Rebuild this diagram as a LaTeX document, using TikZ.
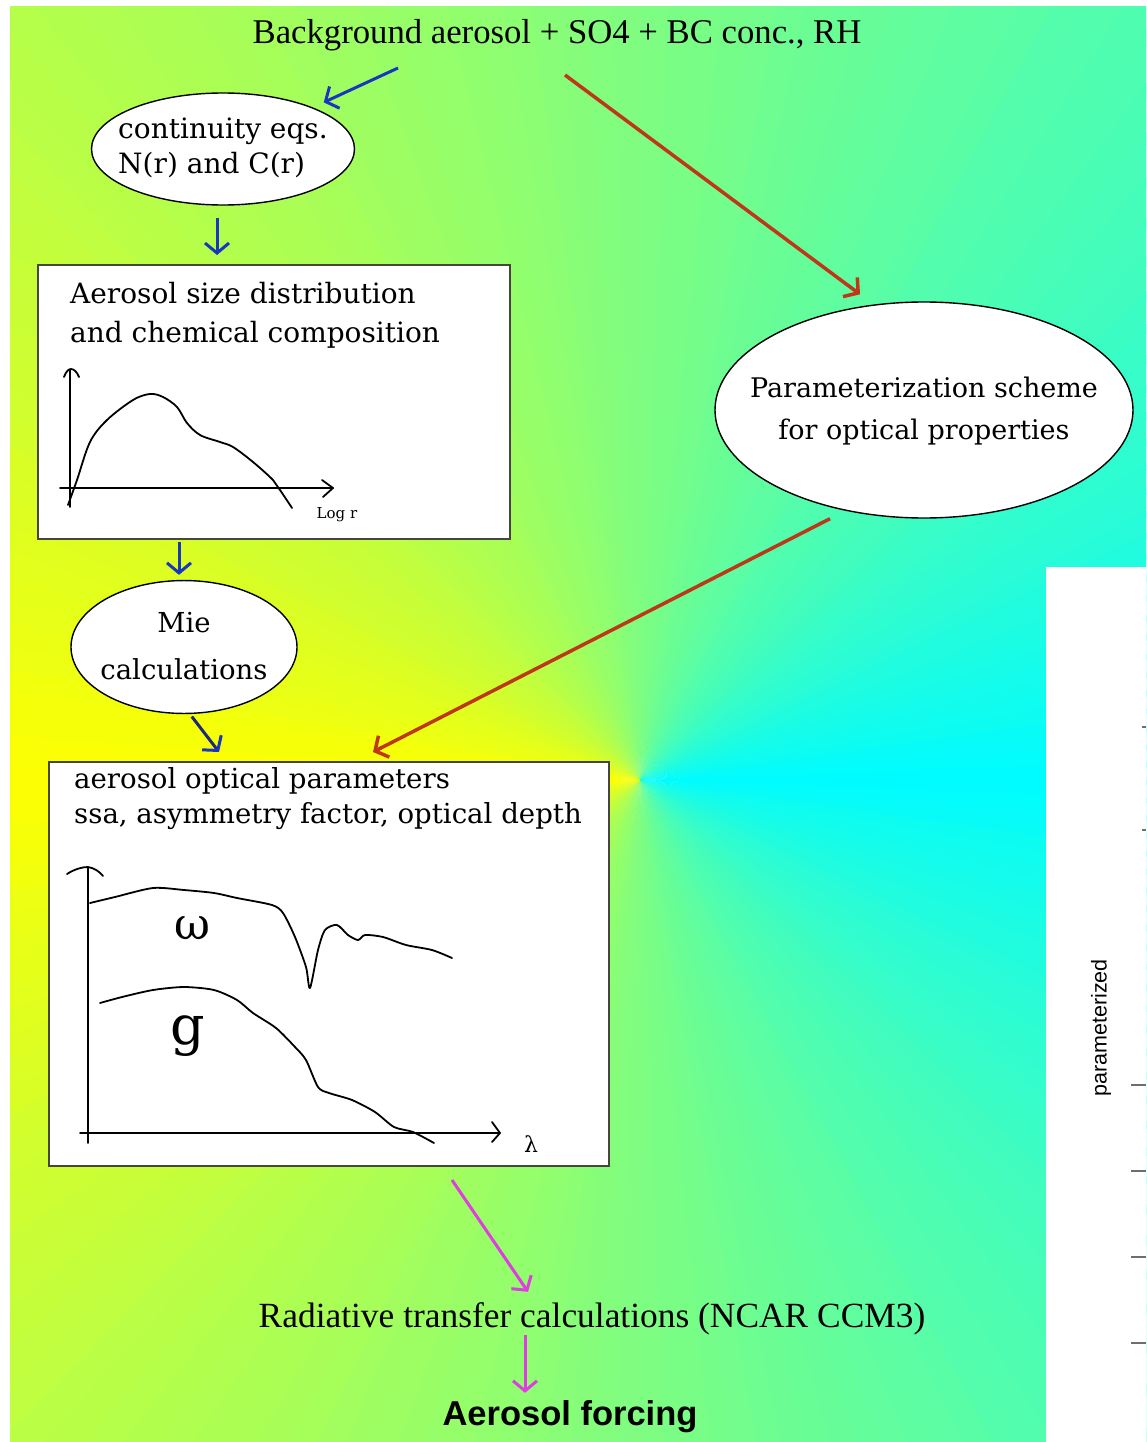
\documentclass[tikz,border=0pt]{standalone}
\usepackage{fontspec}
\setmainfont{DejaVu Serif}
\newfontfamily\tfnt{Liberation Serif}
\newfontfamily\sfnt{Liberation Sans}
\usetikzlibrary{shapes.geometric,arrows.meta,calc}
\definecolor{arblue}{RGB}{25,55,190}
\definecolor{arnavy}{RGB}{30,40,120}
\definecolor{arred}{RGB}{190,55,25}
\definecolor{armag}{RGB}{225,60,225}
\definecolor{cY}{RGB}{255,255,0}
\definecolor{cC}{RGB}{0,252,255}
\definecolor{boxedge}{RGB}{70,70,60}
\definecolor{tickgray}{RGB}{110,110,110}
\newcommand\ellbox[2]{\makebox[60pt]{\begin{tabular}{@{}#1@{}}#2\end{tabular}}}
\begin{document}
\begin{tikzpicture}[x=1pt,y=-1pt,
  arr/.style={line width=3pt, -{Straight Barb[length=10pt,width=24pt]}},
  ell/.style={ellipse, draw=black, line width=1.4pt, fill=white, inner sep=0pt},
  boxst/.style={rectangle, draw=boxedge, line width=2pt, fill=white, inner sep=0pt, anchor=north west},
  boxtxt/.style={inner sep=0pt, anchor=north west, align=left, font=\fontsize{27}{37}\selectfont},
  sketch/.style={line width=1.8pt, black, line cap=round, line join=round},
  tick/.style={line width=1.3pt, tickgray}
]
\useasboundingbox (0,0) rectangle (1146,1442);
\fill[white] (0,0) rectangle (1146,1442);
% conic background
\begin{scope}
  \clip (10,7) rectangle (1146,1442);
  \foreach \a in {0,2,...,358}{
    \pgfmathtruncatemacro\pc{100-abs(\a+1-180)/1.8}
    \fill[cY!\pc!cC] (640,780) -- +(\a:1150) -- +(\a+2.6:1150) -- cycle;
  }
\end{scope}
% right white panel
\fill[white] (1046,567) rectangle (1146,1442);
\node[font=\sfnt\fontsize{21.5}{24}\selectfont, rotate=90, inner sep=0pt] (ptxt) at (1101,1028) {parameterized};
\foreach \yy in {1085,1171,1257,1343}{\draw[tick] (1131,\yy) -- (1146,\yy);}
\foreach \yy in {727,830}{\draw[tick] (1142,\yy) -- (1146,\yy);}

% top text
\node[font=\tfnt\fontsize{34.7}{40}\selectfont, anchor=base, inner sep=0pt] (bg) at (557,44) {Background aerosol + SO4 + BC conc., RH};

% ellipses
\node[ell, minimum width=263pt, minimum height=112pt, font=\fontsize{28}{35}\selectfont] (cont) at (223,149) {\ellbox{l}{continuity eqs.\\N(r) and C(r)}};
\node[ell, minimum width=226pt, minimum height=120pt, font=\fontsize{27.5}{47}\selectfont] (mie) at (184,647) {\ellbox{c}{Mie\\calculations}};
\node[ell, minimum width=418pt, minimum height=216pt, font=\fontsize{27}{42}\selectfont] (param) at (924,410) {\ellbox{c}{Parameterization scheme\\for optical properties}};

% box 1
\node[boxst, minimum width=472pt, minimum height=274pt] (box1) at (37,264) {};
\node[boxtxt, font=\fontsize{28}{39}\selectfont] (box1t) at (70,282) {Aerosol size distribution\\and chemical composition};
\draw[sketch] (70,507) -- (70,370);
\draw[sketch] (64,377) .. controls (66,371) and (69,369) .. (71,369) .. controls (74,369) and (77,372) .. (79,377);
\draw[sketch] (60,488) -- (333,488);
\draw[sketch] (322,480) -- (333,488) -- (323,497);
\draw[sketch] plot[smooth, tension=0.55] coordinates {(68,505) (77,480) (90,442) (107,420) (133,400) (150,394) (163,397) (177,407) (187,423) (200,435) (220,442) (233,447) (253,462) (273,480) (280,490) (292,508)};
\node[font=\fontsize{15}{17}\selectfont, inner sep=0pt] (logr) at (337,515) {Log r};

% box 2
\node[boxst, minimum width=560pt, minimum height=404pt] (box2) at (48,761) {};
\node[boxtxt, font=\fontsize{27.6}{35}\selectfont] (box2t) at (74,767) {aerosol optical parameters\\ssa, asymmetry factor, optical depth};
\draw[sketch] (88,1143) -- (88,868);
\draw[sketch] (67,874) .. controls (75,869) and (82,867) .. (88,867) .. controls (94,868) and (99,871) .. (103,876);
\draw[sketch] (80,1133) -- (500,1133);
\draw[sketch] (492,1122) -- (500,1133) -- (492,1142);
\draw[sketch] plot[smooth, tension=0.45] coordinates {(90,903) (115,897) (153,888) (184,890) (214,893) (237,898) (272,905) (283,913) (295,937) (306,967) (310,988) (318,950) (325,930) (337,925) (348,935) (358,940) (365,935) (383,937) (406,945) (432,950) (452,958)};
\draw[sketch] plot[smooth, tension=0.45] coordinates {(100,1003) (122,997) (153,990) (184,987) (214,990) (237,1000) (253,1013) (276,1028) (295,1047) (306,1060) (318,1087) (329,1093) (352,1100) (375,1112) (394,1127) (413,1132) (434,1143)};
\node[font=\fontsize{44}{48}\selectfont, inner sep=0pt] (omg) at (192,928) {ω};
\node[font=\fontsize{54}{58}\selectfont, inner sep=0pt] (gg) at (188,1036) {g};
\node[font=\fontsize{22}{24}\selectfont, inner sep=0pt] (lam) at (531,1144) {λ};

% bottom texts
\node[font=\tfnt\fontsize{35.4}{40}\selectfont, anchor=base, inner sep=0pt, text height=26pt, text depth=8pt] (rad) at (592,1327) {Radiative transfer calculations (NCAR CCM3)};
\node[font=\sfnt\bfseries\fontsize{34.5}{38}\selectfont, anchor=base, inner sep=0pt, text height=25pt, text depth=7pt] (force) at (570,1425) {Aerosol forcing};

% connectors
\coordinate (a1s) at (398,68);
\coordinate (r1s) at (565,75);
\draw[arr, arblue, shorten >=12pt] (a1s) -- (cont);
\draw[arr, arblue, shorten <=12pt, shorten >=9pt] ([xshift=-6pt]cont.south) -- ([xshift=-6pt]cont.south |- box1.north);
\draw[arr, arblue, shorten <=2pt, shorten >=5pt] ([xshift=-5pt]mie.north |- box1.south) -- ([xshift=-5pt]mie.north);
\draw[line width=3pt, arnavy, -{Straight Barb[length=10pt,width=24pt,color=arblue]}, shorten <=3pt] ([xshift=6pt]mie.south) -- ([shift={(171pt,9pt)}]box2.north west);
\draw[arr, arred, line width=3.5pt] (r1s) -- ([shift={(-64pt,7pt)}]param.north);
\draw[arr, arred, line width=3.5pt] ([xshift=-94pt]param.south) -- ([shift={(325pt,9pt)}]box2.north west);
\draw[arr, armag] ([shift={(404pt,-13pt)}]box2.south west) -- ([shift={(-64pt,9pt)}]rad.north);
\draw[arr, armag] ([xshift=-67pt]rad.south) -- ([shift={(-45pt,7pt)}]force.north);
\end{tikzpicture}
\end{document}
